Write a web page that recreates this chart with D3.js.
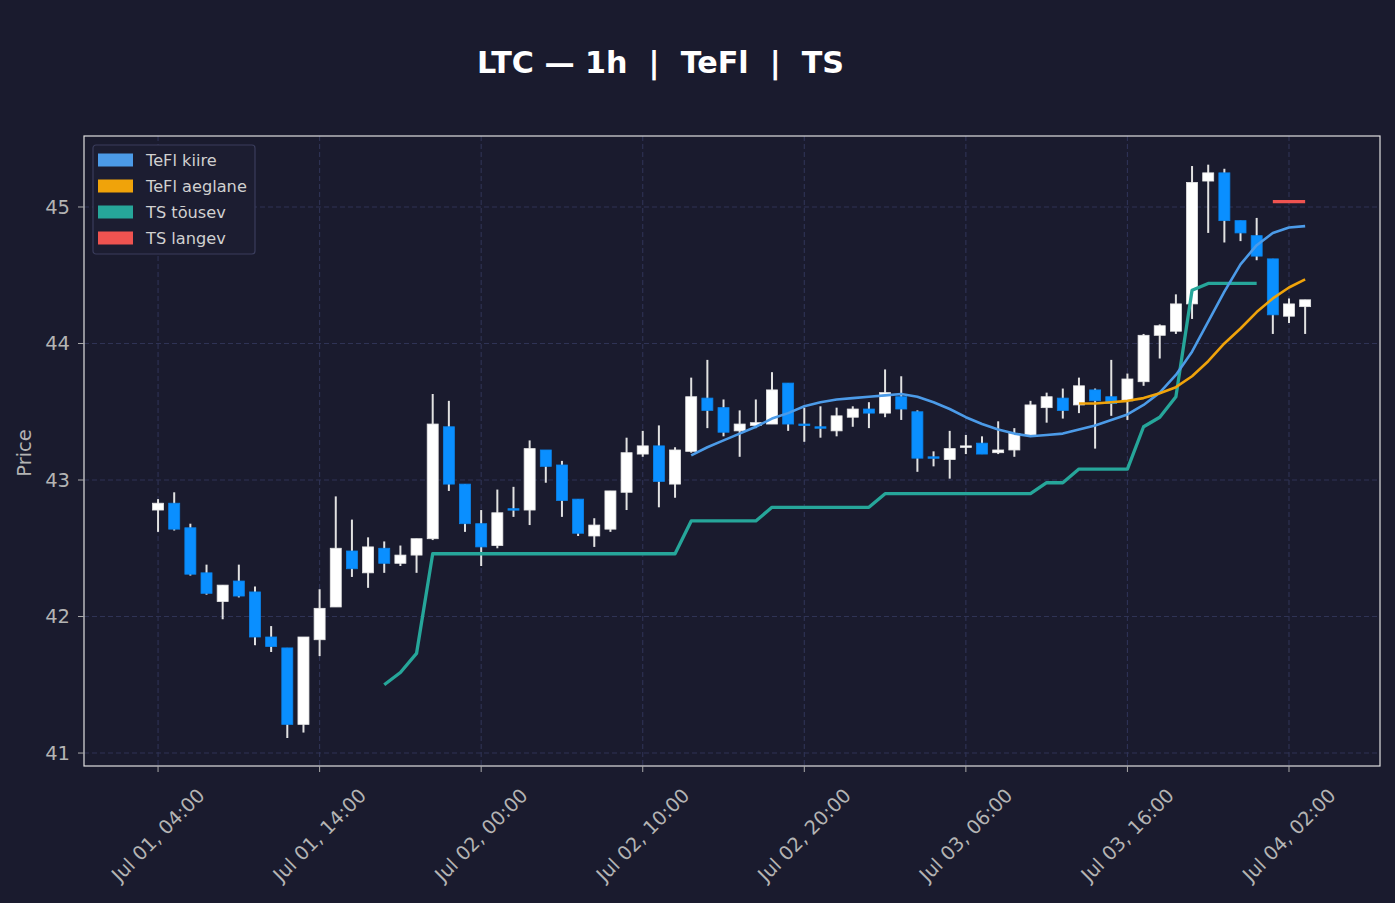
<!DOCTYPE html>
<html>
<head>
<meta charset="utf-8">
<script src="https://cdn.jsdelivr.net/npm/d3@7"></script>
<style>
  html, body { margin: 0; padding: 0; background: #1a1b2e; }
  text { font-family: "DejaVu Sans", sans-serif; }
</style>
</head>
<body>
<div id="chart"></div>
<script>
// hourly candles, first one at Jul 01 04:00
const startTime = new Date(2025, 6, 1, 4, 0);

const opens = [42.78,42.83,42.65,42.32,42.11,42.26,42.18,41.85,41.77,41.21,
  41.83,42.07,42.48,42.32,42.50,42.39,42.45,42.57,43.39,42.97,
  42.68,42.52,42.79,42.78,43.22,43.11,42.86,42.59,42.64,42.91,
  43.19,43.25,42.97,43.21,43.60,43.53,43.36,43.40,43.41,43.71,
  43.41,43.39,43.36,43.46,43.52,43.49,43.61,43.50,43.17,43.15,
  43.24,43.27,43.20,43.22,43.33,43.53,43.60,43.55,43.66,43.61,
  43.58,43.72,44.06,44.09,44.29,45.19,45.25,44.90,44.79,44.62,
  44.20,44.27];
const highs = [42.86,42.91,42.68,42.38,42.23,42.38,42.22,41.93,41.77,41.85,
  42.20,42.88,42.71,42.58,42.55,42.52,42.57,43.63,43.58,42.97,
  42.78,42.93,42.95,43.29,43.22,43.14,42.86,42.72,42.92,43.31,
  43.36,43.40,43.24,43.75,43.88,43.59,43.51,43.59,43.79,43.71,
  43.53,43.54,43.53,43.54,43.57,43.81,43.76,43.51,43.21,43.36,
  43.33,43.32,43.43,43.38,43.58,43.64,43.67,43.75,43.67,43.88,
  43.78,44.07,44.14,44.36,45.30,45.31,45.28,44.90,44.92,44.62,
  44.33,44.32];
const lows = [42.62,42.63,42.30,42.16,41.98,42.14,41.79,41.74,41.11,41.15,
  41.71,42.07,42.29,42.21,42.32,42.37,42.32,42.56,42.92,42.62,
  42.37,42.50,42.73,42.67,42.98,42.73,42.59,42.51,42.62,42.78,
  43.17,42.80,42.87,43.20,43.38,43.32,43.17,43.38,43.41,43.36,
  43.28,43.31,43.32,43.39,43.38,43.46,43.44,43.06,43.10,43.01,
  43.19,43.19,43.19,43.17,43.33,43.42,43.45,43.49,43.23,43.47,
  43.44,43.69,43.89,44.07,44.18,44.81,44.74,44.75,44.61,44.07,
  44.15,44.07];
const closes = [42.83,42.64,42.31,42.17,42.23,42.15,41.85,41.78,41.21,41.85,
  42.06,42.50,42.35,42.51,42.39,42.45,42.57,43.41,42.97,42.68,
  42.51,42.76,42.78,43.23,43.10,42.85,42.61,42.67,42.92,43.20,
  43.25,42.99,43.22,43.61,43.51,43.35,43.41,43.42,43.66,43.41,
  43.40,43.38,43.47,43.52,43.49,43.64,43.52,43.16,43.16,43.23,
  43.25,43.19,43.22,43.34,43.55,43.61,43.51,43.69,43.58,43.56,
  43.74,44.06,44.13,44.29,45.18,45.25,44.90,44.81,44.64,44.21,
  44.29,44.32];

// indicator lines, each starting at a candle index
const tefl_fast_start = 33;
const tefl_fast = [43.18,43.24,43.29,43.34,43.39,43.45,43.49,43.54,43.57,43.59,
  43.60,43.61,43.62,43.63,43.61,43.57,43.52,43.46,43.41,43.37,
  43.34,43.32,43.33,43.34,43.37,43.40,43.44,43.48,43.55,43.64,
  43.77,43.94,44.16,44.38,44.58,44.72,44.81,44.85,44.86];
const tefl_slow_start = 57;
const tefl_slow = [43.56,43.56,43.57,43.58,43.60,43.635,43.68,43.76,43.87,44.00,
  44.11,44.23,44.33,44.41,44.47];
const ts_up_start = 14;
const ts_up = [41.50,41.59,41.73,42.46,42.46,42.46,42.46,42.46,42.46,42.46,
  42.46,42.46,42.46,42.46,42.46,42.46,42.46,42.46,42.46,42.70,
  42.70,42.70,42.70,42.70,42.80,42.80,42.80,42.80,42.80,42.80,
  42.80,42.90,42.90,42.90,42.90,42.90,42.90,42.90,42.90,42.90,
  42.90,42.98,42.98,43.08,43.08,43.08,43.08,43.39,43.46,43.61,
  44.39,44.44,44.44,44.44,44.44];
const ts_down_start = 69;
const ts_down = [45.04,45.04,45.04];

const yTicks = [41, 42, 43, 44, 45];
const xTickHours = [0, 10, 20, 30, 40, 50, 60, 70];

const colors = {
  bg: "#1a1b2e", up: "#ffffff", down: "#0a8fff", wick: "#e2e2e2",
  fast: "#4c9be8", slow: "#f0a30a", tsUp: "#26a69a", tsDown: "#ef5350"
};

const W = 1395, H = 903;
const margin = {top: 136, right: 15, bottom: 137, left: 84};
const width = W - margin.left - margin.right;
const height = H - margin.top - margin.bottom;

const candles = opens.map((o, i) => ({
  t: d3.timeHour.offset(startTime, i), o, h: highs[i], l: lows[i], c: closes[i]
}));

const x = d3.scaleTime()
  .domain([d3.timeMinute.offset(startTime, -275), d3.timeMinute.offset(startTime, 4538)])
  .range([0, width]);
const y = d3.scaleLinear().domain([40.905, 45.52]).range([height, 0]);

const svg = d3.select("#chart").append("svg")
  .attr("width", W).attr("height", H);
svg.append("rect").attr("width", W).attr("height", H).attr("fill", colors.bg);

const g = svg.append("g").attr("transform", `translate(${margin.left},${margin.top})`);

// grid
const xTicks = xTickHours.map(h => d3.timeHour.offset(startTime, h));
g.selectAll(".xgrid").data(xTicks).join("line")
  .attr("x1", d => x(d)).attr("x2", d => x(d)).attr("y1", 0).attr("y2", height)
  .attr("stroke", "#2f3355").attr("stroke-width", 1.1).attr("stroke-dasharray", "5,3");
g.selectAll(".ygrid").data(yTicks).join("line")
  .attr("x1", 0).attr("x2", width).attr("y1", d => y(d)).attr("y2", d => y(d))
  .attr("stroke", "#2f3355").attr("stroke-width", 1.1).attr("stroke-dasharray", "5,3");

// candles
const bw = 11;
const cg = g.append("g");
cg.selectAll(".wick").data(candles).join("line")
  .attr("x1", d => x(d.t)).attr("x2", d => x(d.t))
  .attr("y1", d => y(d.h)).attr("y2", d => y(d.l))
  .attr("stroke", colors.wick).attr("stroke-width", 2);
cg.selectAll(".body").data(candles).join("rect")
  .attr("x", d => x(d.t) - bw / 2)
  .attr("y", d => y(Math.max(d.o, d.c)))
  .attr("width", bw)
  .attr("height", d => Math.max(1.5, Math.abs(y(d.o) - y(d.c))))
  .attr("fill", d => d.c >= d.o ? colors.up : colors.down)
  .attr("stroke", d => d.c >= d.o ? "#e6e6e6" : "#0a84ec")
  .attr("stroke-width", 0.8);

// indicator lines
const line = d3.line().x(d => x(d.t)).y(d => y(d.v));
function series(start, vals) {
  return vals.map((v, i) => ({t: d3.timeHour.offset(startTime, start + i), v}));
}
const lines = [
  {data: series(ts_up_start, ts_up), color: colors.tsUp, w: 3.3},
  {data: series(tefl_fast_start, tefl_fast), color: colors.fast, w: 2.6},
  {data: series(tefl_slow_start, tefl_slow), color: colors.slow, w: 2.6},
  {data: series(ts_down_start, ts_down), color: colors.tsDown, w: 3.3}
];
lines.forEach(s => {
  g.append("path").datum(s.data)
    .attr("fill", "none").attr("stroke", s.color).attr("stroke-width", s.w)
    .attr("stroke-linejoin", "round").attr("d", line);
});

// frame
g.append("rect").attr("width", width).attr("height", height)
  .attr("fill", "none").attr("stroke", "#e0e0e0").attr("stroke-width", 1.2);

// y axis
g.selectAll(".ytick").data(yTicks).join("line")
  .attr("x1", -6).attr("x2", 0).attr("y1", d => y(d)).attr("y2", d => y(d))
  .attr("stroke", "#aaaaaa");
g.selectAll(".ylab").data(yTicks).join("text")
  .attr("x", -14).attr("y", d => y(d)).attr("dy", "0.35em")
  .attr("text-anchor", "end").attr("fill", "#b4b4b4")
  .style("font-size", "19.5px").text(d => d);

// x axis
const fmt = d3.timeFormat("%b %d, %H:%M");
g.selectAll(".xtick").data(xTicks).join("line")
  .attr("x1", d => x(d)).attr("x2", d => x(d)).attr("y1", height).attr("y2", height + 6)
  .attr("stroke", "#aaaaaa");
g.selectAll(".xlab").data(xTicks).join("text")
  .attr("transform", d => `translate(${x(d)},${height + 69}) rotate(-45)`)
  .attr("text-anchor", "middle").attr("dy", "0.35em")
  .attr("fill", "#b4b4b4").style("font-size", "19.3px")
  .text(d => fmt(d));

// y label
svg.append("text")
  .attr("transform", `translate(31,453) rotate(-90)`)
  .attr("text-anchor", "middle").attr("fill", "#b4b4b4")
  .style("font-size", "19.5px").text("Price");

// title
svg.append("text")
  .attr("x", 660.5).attr("y", 73).attr("text-anchor", "middle")
  .attr("fill", "#ffffff").style("font-size", "30.2px").style("font-weight", "bold")
  .style("white-space", "pre")
  .text("LTC — 1h  |  TeFl  |  TS");

// legend
const legendItems = [
  {label: "TeFl kiire", color: colors.fast},
  {label: "TeFl aeglane", color: colors.slow},
  {label: "TS tõusev", color: colors.tsUp},
  {label: "TS langev", color: colors.tsDown}
];
const lg = svg.append("g").attr("transform", "translate(93,145)");
lg.append("rect").attr("width", 162).attr("height", 109).attr("rx", 3)
  .attr("fill", "#1c1d31").attr("stroke", "#3a3d5c").attr("stroke-width", 1.2);
lg.selectAll(".sw").data(legendItems).join("rect")
  .attr("x", 5).attr("y", (d, i) => 8.5 + i * 26).attr("width", 35).attr("height", 13)
  .attr("fill", d => d.color);
lg.selectAll(".lt").data(legendItems).join("text")
  .attr("x", 53).attr("y", (d, i) => 15 + i * 26).attr("dy", "0.35em")
  .attr("fill", "#d0d0d0").style("font-size", "16.2px")
  .text(d => d.label);
</script>
</body>
</html>
